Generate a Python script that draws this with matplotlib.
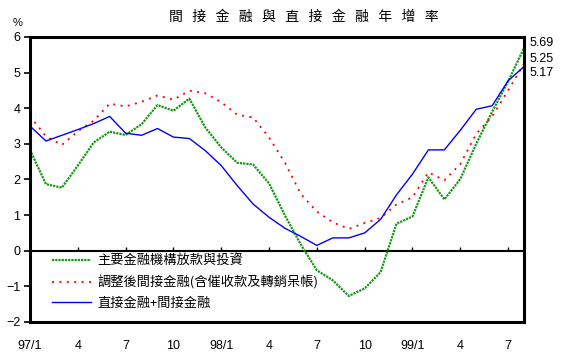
"""間接金融與直接金融年增率 (97/1 - 99/8, 月資料)."""
import matplotlib
matplotlib.use("Agg")
import matplotlib.pyplot as plt
import numpy as np

plt.rcParams["font.family"] = ["Liberation Sans", "Noto Sans CJK TC", "DejaVu Sans"]
CJK = ["Noto Sans CJK TC", "DejaVu Sans"]

# ----- data (% 年增率), 97/1 起每月一點 -----
loans = [2.83, 1.87, 1.77, 2.39, 3.04, 3.34, 3.25, 3.55, 4.09, 3.93, 4.27, 3.46,
         2.90, 2.47, 2.42, 1.89, 0.99, 0.17, -0.55, -0.83, -1.27, -1.06, -0.60, 0.76,
         0.96, 2.06, 1.44, 2.01, 3.00, 3.90, 4.75, 5.69]
indirect_adj = [3.78, 3.21, 2.97, 3.35, 3.65, 4.13, 4.05, 4.18, 4.36, 4.24, 4.49, 4.42,
                4.17, 3.82, 3.74, 3.18, 2.47, 1.59, 1.10, 0.80, 0.61, 0.78, 0.92, 1.30,
                1.50, 2.20, 1.98, 2.43, 3.28, 3.77, 4.50, 5.25]
total = [3.50, 3.08, 3.24, 3.40, 3.57, 3.77, 3.30, 3.24, 3.43, 3.19, 3.15, 2.81,
         2.39, 1.83, 1.31, 0.94, 0.63, 0.40, 0.15, 0.36, 0.36, 0.50, 0.88, 1.57,
         2.15, 2.83, 2.83, 3.38, 3.97, 4.07, 4.77, 5.17]

series_names = ["主要金融機構放款與投資",
                "調整後間接金融(含催收款及轉銷呆帳)",
                "直接金融+間接金融"]
tick_pos = [0, 3, 6, 9, 12, 15, 18, 21, 24, 27, 30]
tick_labels = ["97/1", "4", "7", "10", "98/1", "4", "7", "10", "99/1", "4", "7"]
yticks = [-2, -1, 0, 1, 2, 3, 4, 5, 6]


def main():
    x = np.arange(len(loans))
    fig = plt.figure(figsize=(5.78, 3.59), dpi=100)
    ax = fig.add_axes([0.0519, 0.1031, 0.8547, 0.7939])

    ax.plot(x, loans, color="#159a15", lw=1.6, ls=(0, (1.0, 0.45)), label=series_names[0])
    ax.plot(x, indirect_adj, color="#ff0000", lw=1.3, ls=(0, (1.1, 3.0)), label=series_names[1])
    ax.plot(x, total, color="#0000ff", lw=1.0, label=series_names[2])

    # 零軸 + 上方小刻度
    ax.axhline(0, color="black", lw=1.5, zorder=1)
    ax.vlines(tick_pos, 0, 0.1, color="black", lw=1.0)

    ax.set_xlim(0, len(loans) - 1)
    ax.set_ylim(-2, 6)
    ax.set_yticks(yticks)
    ax.set_xticks(tick_pos)
    ax.set_xticklabels(tick_labels)
    ax.tick_params(axis="x", length=0, pad=13, labelsize=9)
    ax.tick_params(axis="y", direction="out", length=4, width=1.2, labelsize=9, pad=3)
    for s in ax.spines.values():
        s.set_linewidth(2.2)

    # 最後一期數值
    for vals, dy in [(loans, 5), (indirect_adj, 5), (total, -6)]:
        ax.annotate(f"{vals[-1]:.2f}", xy=(x[-1], vals[-1]), xytext=(6, dy),
                    textcoords="offset pixels", va="center", ha="left",
                    fontsize=9, annotation_clip=False)

    leg = ax.legend(loc="lower left", bbox_to_anchor=(0.02, 0.0), frameon=False,
                    handlelength=3.0, handletextpad=0.45, labelspacing=0.6,
                    prop={"family": CJK, "size": 9.5})
    leg.set_zorder(5)

    fig.text(0.525, 0.953, "   ".join("間接金融與直接金融年增率"), ha="center", va="center",
             fontsize=10, family=CJK)
    fig.text(0.03, 0.935, "%", ha="center", va="center", fontsize=8)

    fig.savefig("out.png", dpi=100)
    plt.close(fig)
    return 0


if __name__ == "__main__":
    raise SystemExit(main())
